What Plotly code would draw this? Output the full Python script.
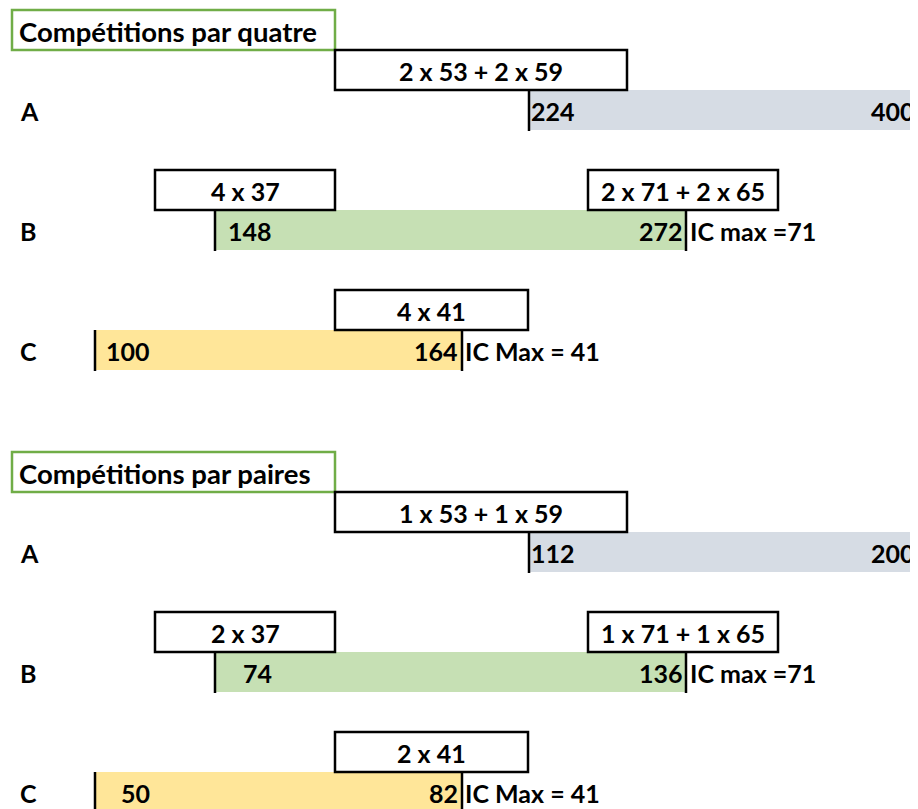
import plotly.graph_objects as go

# ---------------- data ----------------
categories = ["A", "B", "C"]
section_titles = ["Compétitions par quatre", "Compétitions par paires"]
start_quatre = [224, 148, 100]
end_quatre = [400, 272, 164]
start_paires = [112, 74, 50]
end_paires = [200, 136, 82]
formules_quatre = [["2 x 53 + 2 x 59"], ["4 x 37", "2 x 71 + 2 x 65"], ["4 x 41"]]
formules_paires = [["1 x 53 + 1 x 59"], ["2 x 37", "1 x 71 + 1 x 65"], ["2 x 41"]]
ic_max = ["", "IC max =71", "IC Max = 41"]

# ---------------- layout / style ----------------
bar_colors = ["#D6DCE4", "#C6E0B4", "#FFE699"]
title_green = "#70AD47"
section_top = [10, 452]
row_h = 40
bar_row = [2, 5, 8]
box_row = [1, 4, 7]
bar_x0 = [529, 215, 95]
bar_x1 = [920, 686, 462]
start_label_right = [576, 273, 151]
end_label_right = [916, 684, 459]
ic_label_left = [0, 689, 464]
box_extent = [[(335, 627)], [(155, 335), (588, 778)], [(335, 528)]]
has_right_line = [False, True, True]
title_box = (12, 335)
label_x = 19
FONT = dict(family="Lato", size=25, color="#000000", weight="bold")
TITLE_FONT = dict(family="Lato", size=27.5, color="#000000", weight="bold")
LINE_W = 2.5
PAGE_OFFSET = 8  # default body margin of the html page

fig = go.Figure()
shapes = []
annotations = []


def ann(x, y, text, anchor, font=FONT):
    annotations.append(dict(x=x, y=y, text=text, xref="x", yref="y",
                            xanchor=anchor, yanchor="middle", showarrow=False,
                            font=font, borderpad=0))


sections = [
    (section_titles[0], start_quatre, end_quatre, formules_quatre),
    (section_titles[1], start_paires, end_paires, formules_paires),
]

for s, (title, starts, ends, formules) in enumerate(sections):
    top = section_top[s]
    shapes.append(dict(type="rect", xref="x", yref="y", x0=title_box[0], x1=title_box[1],
                       y0=top, y1=top + row_h, line=dict(color=title_green, width=LINE_W),
                       fillcolor="rgba(0,0,0,0)", layer="above"))
    ann(label_x - 1, top + row_h / 2 + 1, title, "left", TITLE_FONT)

    centers = [top + bar_row[i] * row_h + row_h / 2 for i in range(3)]
    fig.add_trace(go.Bar(
        orientation="h",
        y=centers,
        x=[bar_x1[i] - bar_x0[i] for i in range(3)],
        base=bar_x0,
        width=row_h,
        marker=dict(color=bar_colors, line=dict(width=0)),
        hoverinfo="skip",
        showlegend=False,
    ))

    for i, cat in enumerate(categories):
        cy = centers[i]
        y0 = top + bar_row[i] * row_h
        y1 = y0 + row_h
        ann(label_x, cy + 1, cat, "left")
        ann(start_label_right[i], cy + 1, str(starts[i]), "right")
        ann(end_label_right[i], cy + 1, str(ends[i]), "right")
        if ic_max[i]:
            ann(ic_label_left[i], cy + 1, ic_max[i], "left")
        shapes.append(dict(type="line", xref="x", yref="y", x0=bar_x0[i], x1=bar_x0[i],
                           y0=y0, y1=y1 + 1, line=dict(color="black", width=LINE_W)))
        if has_right_line[i]:
            shapes.append(dict(type="line", xref="x", yref="y", x0=bar_x1[i], x1=bar_x1[i],
                               y0=y0, y1=y1 + 1, line=dict(color="black", width=LINE_W)))
        by0 = top + box_row[i] * row_h
        for (bx0, bx1), ftxt in zip(box_extent[i], formules[i]):
            shapes.append(dict(type="rect", xref="x", yref="y", x0=bx0, x1=bx1,
                               y0=by0, y1=by0 + row_h,
                               line=dict(color="black", width=LINE_W),
                               fillcolor="rgba(0,0,0,0)"))
            ann((bx0 + bx1) / 2, by0 + row_h / 2 + 1, ftxt, "center")

W, H = 918, 809
fig.update_layout(
    width=W - PAGE_OFFSET, height=H - PAGE_OFFSET,
    margin=dict(l=0, r=0, t=0, b=0),
    paper_bgcolor="white", plot_bgcolor="white",
    xaxis=dict(range=[PAGE_OFFSET, W], visible=False, fixedrange=True),
    yaxis=dict(range=[H, PAGE_OFFSET], visible=False, fixedrange=True),
    shapes=shapes,
    annotations=annotations,
    barmode="overlay",
)

fig.write_html("out.html", config={"displayModeBar": False},
               post_script="document.documentElement.style.overflow='hidden';"
                           "document.body.style.overflow='hidden';")
